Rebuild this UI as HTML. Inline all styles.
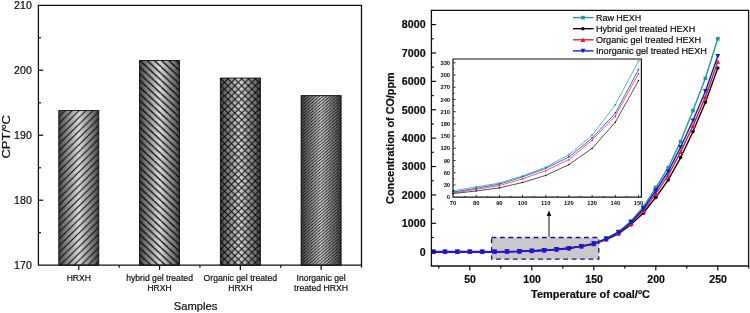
<!DOCTYPE html>
<html lang="en"><head><meta charset="utf-8"><title>CPT and CO concentration charts</title>
<style>html,body{margin:0;padding:0;background:#fff;}body{width:750px;height:313px;overflow:hidden;}svg{display:block;}text{font-family:"Liberation Sans", Arial, sans-serif;fill:#0a0a0a;stroke:#0a0a0a;stroke-width:0.18px;filter:grayscale(1);}.b{font-weight:bold;}.t{font-weight:bold;stroke:none;}</style></head><body>
<svg width="750" height="313" viewBox="0 0 750 313">
<rect x="0" y="0" width="750" height="313" fill="#ffffff"/>
<defs>
<linearGradient id="cyl" x1="0" y1="0" x2="1" y2="0"><stop offset="0" stop-color="#3e3e3e"/><stop offset="0.12" stop-color="#6e6e6e"/><stop offset="0.5" stop-color="#dadada"/><stop offset="0.88" stop-color="#6e6e6e"/><stop offset="1" stop-color="#3e3e3e"/></linearGradient>
<pattern id="h1" patternUnits="userSpaceOnUse" x="4.48" y="0.0" width="6.95" height="6.8">
<line x1="-6.95" y1="6.8" x2="0.0" y2="0" stroke="#0a0a0a" stroke-width="1.0"/>
<line x1="0.0" y1="6.8" x2="6.95" y2="0" stroke="#0a0a0a" stroke-width="1.0"/>
<line x1="6.95" y1="6.8" x2="13.9" y2="0" stroke="#0a0a0a" stroke-width="1.0"/>
</pattern>
<pattern id="h2" patternUnits="userSpaceOnUse" x="2.87" y="0.0" width="7.2" height="6.7">
<line x1="-7.2" y1="0" x2="0.0" y2="6.7" stroke="#0a0a0a" stroke-width="1.25"/>
<line x1="0.0" y1="0" x2="7.2" y2="6.7" stroke="#0a0a0a" stroke-width="1.25"/>
<line x1="7.2" y1="0" x2="14.4" y2="6.7" stroke="#0a0a0a" stroke-width="1.25"/>
</pattern>
<pattern id="h3" patternUnits="userSpaceOnUse" x="2.61" y="4.15" width="6.83" height="6.8">
<line x1="-6.83" y1="6.8" x2="0.0" y2="0" stroke="#0a0a0a" stroke-width="1.0"/>
<line x1="0.0" y1="6.8" x2="6.83" y2="0" stroke="#0a0a0a" stroke-width="1.0"/>
<line x1="6.83" y1="6.8" x2="13.66" y2="0" stroke="#0a0a0a" stroke-width="1.0"/>
<line x1="-6.83" y1="0" x2="0.0" y2="6.8" stroke="#0a0a0a" stroke-width="1.0"/>
<line x1="0.0" y1="0" x2="6.83" y2="6.8" stroke="#0a0a0a" stroke-width="1.0"/>
<line x1="6.83" y1="0" x2="13.66" y2="6.8" stroke="#0a0a0a" stroke-width="1.0"/>
</pattern>
<pattern id="h4" patternUnits="userSpaceOnUse" x="0.5" y="0.6" width="3.56" height="3.05">
<line x1="-3.56" y1="3.05" x2="0.0" y2="0" stroke="#0a0a0a" stroke-width="0.78"/>
<line x1="0.0" y1="3.05" x2="3.56" y2="0" stroke="#0a0a0a" stroke-width="0.78"/>
<line x1="3.56" y1="3.05" x2="7.12" y2="0" stroke="#0a0a0a" stroke-width="0.78"/>
</pattern>
</defs>
<g id="left-chart">
<rect x="58.79" y="110.56" width="40.00" height="154.64" fill="url(#cyl)"/>
<rect x="58.79" y="110.56" width="40.00" height="154.64" fill="url(#h1)" stroke="#111" stroke-width="0.9"/>
<rect x="139.56" y="60.53" width="40.00" height="204.67" fill="url(#cyl)"/>
<rect x="139.56" y="60.53" width="40.00" height="204.67" fill="url(#h2)" stroke="#111" stroke-width="0.9"/>
<rect x="220.34" y="78.07" width="40.00" height="187.13" fill="url(#cyl)"/>
<rect x="220.34" y="78.07" width="40.00" height="187.13" fill="url(#h3)" stroke="#111" stroke-width="0.9"/>
<rect x="301.11" y="95.62" width="40.00" height="169.58" fill="url(#cyl)"/>
<rect x="301.11" y="95.62" width="40.00" height="169.58" fill="url(#h4)" stroke="#111" stroke-width="0.9"/>
<path d="M38.40 5.30 H361.50 V265.20 H38.40 Z" fill="none" stroke="#111" stroke-width="1.3"/>
<text x="31.8" y="9.10" font-size="10.6" text-anchor="end">210</text>
<line x1="38.40" y1="37.79" x2="41.00" y2="37.79" stroke="#111" stroke-width="1.25"/>
<line x1="38.40" y1="70.27" x2="43.20" y2="70.27" stroke="#111" stroke-width="1.25"/>
<text x="31.8" y="74.07" font-size="10.6" text-anchor="end">200</text>
<line x1="38.40" y1="102.76" x2="41.00" y2="102.76" stroke="#111" stroke-width="1.25"/>
<line x1="38.40" y1="135.25" x2="43.20" y2="135.25" stroke="#111" stroke-width="1.25"/>
<text x="31.8" y="139.05" font-size="10.6" text-anchor="end">190</text>
<line x1="38.40" y1="167.74" x2="41.00" y2="167.74" stroke="#111" stroke-width="1.25"/>
<line x1="38.40" y1="200.22" x2="43.20" y2="200.22" stroke="#111" stroke-width="1.25"/>
<text x="31.8" y="204.03" font-size="10.6" text-anchor="end">180</text>
<line x1="38.40" y1="232.71" x2="41.00" y2="232.71" stroke="#111" stroke-width="1.25"/>
<text x="31.8" y="269.00" font-size="10.6" text-anchor="end">170</text>
<line x1="78.79" y1="265.20" x2="78.79" y2="269.90" stroke="#111" stroke-width="1.25"/>
<line x1="119.18" y1="265.20" x2="119.18" y2="267.70" stroke="#111" stroke-width="1.25"/>
<line x1="159.56" y1="265.20" x2="159.56" y2="269.90" stroke="#111" stroke-width="1.25"/>
<line x1="199.95" y1="265.20" x2="199.95" y2="267.70" stroke="#111" stroke-width="1.25"/>
<line x1="240.34" y1="265.20" x2="240.34" y2="269.90" stroke="#111" stroke-width="1.25"/>
<line x1="280.73" y1="265.20" x2="280.73" y2="267.70" stroke="#111" stroke-width="1.25"/>
<line x1="321.11" y1="265.20" x2="321.11" y2="269.90" stroke="#111" stroke-width="1.25"/>
<line x1="361.50" y1="265.20" x2="361.50" y2="267.70" stroke="#111" stroke-width="1.25"/>
<text x="78.79" y="280.70" font-size="8.5" text-anchor="middle" textLength="24.2" lengthAdjust="spacingAndGlyphs">HRXH</text>
<text x="159.56" y="280.70" font-size="8.5" text-anchor="middle" textLength="66.8" lengthAdjust="spacingAndGlyphs">hybrid gel treated</text>
<text x="159.56" y="291.40" font-size="8.5" text-anchor="middle" textLength="24.2" lengthAdjust="spacingAndGlyphs">HRXH</text>
<text x="240.34" y="280.70" font-size="8.5" text-anchor="middle" textLength="73.5" lengthAdjust="spacingAndGlyphs">Organic gel treated</text>
<text x="240.34" y="291.40" font-size="8.5" text-anchor="middle" textLength="24.2" lengthAdjust="spacingAndGlyphs">HRXH</text>
<text x="321.11" y="280.70" font-size="8.5" text-anchor="middle" textLength="49.0" lengthAdjust="spacingAndGlyphs">Inorganic gel</text>
<text x="321.11" y="291.40" font-size="8.5" text-anchor="middle" textLength="54.0" lengthAdjust="spacingAndGlyphs">treated HRXH</text>
<text x="195.5" y="310.4" font-size="11.2" text-anchor="middle">Samples</text>
<text transform="translate(9.7,136.8) rotate(-90)" font-size="11" text-anchor="middle" textLength="43.6" lengthAdjust="spacingAndGlyphs">CPT/<tspan font-size="6.8" dy="-3.6">o</tspan><tspan dy="3.6">C</tspan></text>
</g>
<g id="right-chart">
<rect x="491.6" y="237.5" width="107.2" height="21.7" fill="#c9c9c9" stroke="#15158f" stroke-width="1.3" stroke-dasharray="4.8 3.6"/>
<polyline points="433.40,251.70 445.00,251.70 457.40,251.70 469.80,251.70 482.20,251.70 494.60,251.75 507.00,251.60 519.40,251.40 531.80,250.90 544.20,250.30 556.60,249.40 569.00,248.20 581.40,246.30 593.80,243.30 606.20,238.40 618.60,231.70 631.00,221.20 643.40,206.80 655.80,187.60 668.20,167.70 680.60,141.60 693.00,110.60 705.40,78.30 717.80,38.80" fill="none" stroke="#12a19c" stroke-width="1.4" stroke-linejoin="round"/>
<g><rect x="431.36" y="249.66" width="4.07" height="4.07" fill="#12a19c"/><rect x="442.96" y="249.66" width="4.07" height="4.07" fill="#12a19c"/><rect x="455.37" y="249.66" width="4.07" height="4.07" fill="#12a19c"/><rect x="467.76" y="249.66" width="4.07" height="4.07" fill="#12a19c"/><rect x="480.16" y="249.66" width="4.07" height="4.07" fill="#12a19c"/><rect x="492.56" y="249.72" width="4.07" height="4.07" fill="#12a19c"/><rect x="504.96" y="249.56" width="4.07" height="4.07" fill="#12a19c"/><rect x="517.37" y="249.37" width="4.07" height="4.07" fill="#12a19c"/><rect x="529.76" y="248.87" width="4.07" height="4.07" fill="#12a19c"/><rect x="542.17" y="248.27" width="4.07" height="4.07" fill="#12a19c"/><rect x="554.57" y="247.37" width="4.07" height="4.07" fill="#12a19c"/><rect x="566.97" y="246.16" width="4.07" height="4.07" fill="#12a19c"/><rect x="579.37" y="244.27" width="4.07" height="4.07" fill="#12a19c"/><rect x="591.76" y="241.27" width="4.07" height="4.07" fill="#12a19c"/><rect x="604.17" y="236.37" width="4.07" height="4.07" fill="#12a19c"/><rect x="616.57" y="229.66" width="4.07" height="4.07" fill="#12a19c"/><rect x="628.97" y="219.16" width="4.07" height="4.07" fill="#12a19c"/><rect x="641.37" y="204.77" width="4.07" height="4.07" fill="#12a19c"/><rect x="653.76" y="185.56" width="4.07" height="4.07" fill="#12a19c"/><rect x="666.35" y="165.85" width="3.70" height="3.70" fill="#12a19c"/><rect x="678.75" y="139.75" width="3.70" height="3.70" fill="#12a19c"/><rect x="691.15" y="108.75" width="3.70" height="3.70" fill="#12a19c"/><rect x="703.55" y="76.45" width="3.70" height="3.70" fill="#12a19c"/><rect x="715.95" y="36.95" width="3.70" height="3.70" fill="#12a19c"/></g>
<polyline points="433.40,251.70 445.00,251.70 457.40,251.70 469.80,251.70 482.20,251.70 494.60,251.75 507.00,251.60 519.40,251.40 531.80,250.90 544.20,250.30 556.60,249.40 569.00,248.20 581.40,246.30 593.80,244.20 606.20,239.60 618.60,233.80 631.00,224.60 643.40,213.00 655.80,197.30 668.20,180.00 680.60,157.60 693.00,131.60 705.40,102.20 717.80,68.00" fill="none" stroke="#0a0a0a" stroke-width="1.4" stroke-linejoin="round"/>
<g><circle cx="433.40" cy="251.70" r="1.98" fill="#0a0a0a"/><circle cx="445.00" cy="251.70" r="1.98" fill="#0a0a0a"/><circle cx="457.40" cy="251.70" r="1.98" fill="#0a0a0a"/><circle cx="469.80" cy="251.70" r="1.98" fill="#0a0a0a"/><circle cx="482.20" cy="251.70" r="1.98" fill="#0a0a0a"/><circle cx="494.60" cy="251.75" r="1.98" fill="#0a0a0a"/><circle cx="507.00" cy="251.60" r="1.98" fill="#0a0a0a"/><circle cx="519.40" cy="251.40" r="1.98" fill="#0a0a0a"/><circle cx="531.80" cy="250.90" r="1.98" fill="#0a0a0a"/><circle cx="544.20" cy="250.30" r="1.98" fill="#0a0a0a"/><circle cx="556.60" cy="249.40" r="1.98" fill="#0a0a0a"/><circle cx="569.00" cy="248.20" r="1.98" fill="#0a0a0a"/><circle cx="581.40" cy="246.30" r="1.98" fill="#0a0a0a"/><circle cx="593.80" cy="244.20" r="1.98" fill="#0a0a0a"/><circle cx="606.20" cy="239.60" r="1.98" fill="#0a0a0a"/><circle cx="618.60" cy="233.80" r="1.98" fill="#0a0a0a"/><circle cx="631.00" cy="224.60" r="1.98" fill="#0a0a0a"/><circle cx="643.40" cy="213.00" r="1.98" fill="#0a0a0a"/><circle cx="655.80" cy="197.30" r="1.98" fill="#0a0a0a"/><circle cx="668.20" cy="180.00" r="1.80" fill="#0a0a0a"/><circle cx="680.60" cy="157.60" r="1.80" fill="#0a0a0a"/><circle cx="693.00" cy="131.60" r="1.80" fill="#0a0a0a"/><circle cx="705.40" cy="102.20" r="1.80" fill="#0a0a0a"/><circle cx="717.80" cy="68.00" r="1.80" fill="#0a0a0a"/></g>
<polyline points="433.40,251.70 445.00,251.70 457.40,251.70 469.80,251.70 482.20,251.70 494.60,251.75 507.00,251.60 519.40,251.40 531.80,250.90 544.20,250.30 556.60,249.40 569.00,248.20 581.40,246.30 593.80,243.90 606.20,239.20 618.60,233.00 631.00,223.40 643.40,210.60 655.80,193.60 668.20,175.30 680.60,151.90 693.00,125.90 705.40,96.90 717.80,61.70" fill="none" stroke="#f01818" stroke-width="1.4" stroke-linejoin="round"/>
<g><path d="M433.40 249.17 L436.04 254.01 L430.76 254.01 Z" fill="#f01818"/><path d="M445.00 249.17 L447.64 254.01 L442.36 254.01 Z" fill="#f01818"/><path d="M457.40 249.17 L460.04 254.01 L454.76 254.01 Z" fill="#f01818"/><path d="M469.80 249.17 L472.44 254.01 L467.16 254.01 Z" fill="#f01818"/><path d="M482.20 249.17 L484.84 254.01 L479.56 254.01 Z" fill="#f01818"/><path d="M494.60 249.22 L497.24 254.06 L491.96 254.06 Z" fill="#f01818"/><path d="M507.00 249.07 L509.64 253.91 L504.36 253.91 Z" fill="#f01818"/><path d="M519.40 248.87 L522.04 253.71 L516.76 253.71 Z" fill="#f01818"/><path d="M531.80 248.37 L534.44 253.21 L529.16 253.21 Z" fill="#f01818"/><path d="M544.20 247.77 L546.84 252.61 L541.56 252.61 Z" fill="#f01818"/><path d="M556.60 246.87 L559.24 251.71 L553.96 251.71 Z" fill="#f01818"/><path d="M569.00 245.67 L571.64 250.51 L566.36 250.51 Z" fill="#f01818"/><path d="M581.40 243.77 L584.04 248.61 L578.76 248.61 Z" fill="#f01818"/><path d="M593.80 241.37 L596.44 246.21 L591.16 246.21 Z" fill="#f01818"/><path d="M606.20 236.67 L608.84 241.51 L603.56 241.51 Z" fill="#f01818"/><path d="M618.60 230.47 L621.24 235.31 L615.96 235.31 Z" fill="#f01818"/><path d="M631.00 220.87 L633.64 225.71 L628.36 225.71 Z" fill="#f01818"/><path d="M643.40 208.07 L646.04 212.91 L640.76 212.91 Z" fill="#f01818"/><path d="M655.80 191.07 L658.44 195.91 L653.16 195.91 Z" fill="#f01818"/><path d="M668.20 173.00 L670.60 177.40 L665.80 177.40 Z" fill="#f01818"/><path d="M680.60 149.60 L683.00 154.00 L678.20 154.00 Z" fill="#f01818"/><path d="M693.00 123.60 L695.40 128.00 L690.60 128.00 Z" fill="#f01818"/><path d="M705.40 94.60 L707.80 99.00 L703.00 99.00 Z" fill="#f01818"/><path d="M717.80 59.40 L720.20 63.80 L715.40 63.80 Z" fill="#f01818"/></g>
<polyline points="433.40,251.70 445.00,251.70 457.40,251.70 469.80,251.70 482.20,251.70 494.60,251.75 507.00,251.60 519.40,251.40 531.80,250.90 544.20,250.30 556.60,249.40 569.00,248.20 581.40,246.30 593.80,243.60 606.20,238.80 618.60,232.40 631.00,222.30 643.40,208.60 655.80,190.70 668.20,171.50 680.60,147.20 693.00,120.50 705.40,91.20 717.80,56.10" fill="none" stroke="#1414f0" stroke-width="1.4" stroke-linejoin="round"/>
<g><path d="M433.40 254.23 L436.09 249.39 L430.70 249.39 Z" fill="#1414f0"/><path d="M445.00 254.23 L447.69 249.39 L442.31 249.39 Z" fill="#1414f0"/><path d="M457.40 254.23 L460.10 249.39 L454.71 249.39 Z" fill="#1414f0"/><path d="M469.80 254.23 L472.50 249.39 L467.11 249.39 Z" fill="#1414f0"/><path d="M482.20 254.23 L484.89 249.39 L479.50 249.39 Z" fill="#1414f0"/><path d="M494.60 254.28 L497.30 249.44 L491.91 249.44 Z" fill="#1414f0"/><path d="M507.00 254.13 L509.69 249.29 L504.31 249.29 Z" fill="#1414f0"/><path d="M519.40 253.93 L522.10 249.09 L516.70 249.09 Z" fill="#1414f0"/><path d="M531.80 253.43 L534.50 248.59 L529.10 248.59 Z" fill="#1414f0"/><path d="M544.20 252.83 L546.90 247.99 L541.50 247.99 Z" fill="#1414f0"/><path d="M556.60 251.93 L559.30 247.09 L553.90 247.09 Z" fill="#1414f0"/><path d="M569.00 250.73 L571.70 245.89 L566.30 245.89 Z" fill="#1414f0"/><path d="M581.40 248.83 L584.10 243.99 L578.70 243.99 Z" fill="#1414f0"/><path d="M593.80 246.13 L596.50 241.29 L591.10 241.29 Z" fill="#1414f0"/><path d="M606.20 241.33 L608.90 236.49 L603.50 236.49 Z" fill="#1414f0"/><path d="M618.60 234.93 L621.30 230.09 L615.90 230.09 Z" fill="#1414f0"/><path d="M631.00 224.83 L633.70 219.99 L628.30 219.99 Z" fill="#1414f0"/><path d="M643.40 211.13 L646.10 206.29 L640.70 206.29 Z" fill="#1414f0"/><path d="M655.80 193.23 L658.50 188.39 L653.10 188.39 Z" fill="#1414f0"/><path d="M668.20 173.80 L670.65 169.40 L665.75 169.40 Z" fill="#1414f0"/><path d="M680.60 149.50 L683.05 145.10 L678.15 145.10 Z" fill="#1414f0"/><path d="M693.00 122.80 L695.45 118.40 L690.55 118.40 Z" fill="#1414f0"/><path d="M705.40 93.50 L707.85 89.10 L702.95 89.10 Z" fill="#1414f0"/><path d="M717.80 58.40 L720.25 54.00 L715.35 54.00 Z" fill="#1414f0"/></g>
<polyline points="433.40,251.70 445.00,251.70 457.40,251.70 469.80,251.70 482.20,251.70 494.60,251.75 507.00,251.60 519.40,251.40 531.80,250.90 544.20,250.30 556.60,249.40 569.00,248.20" fill="none" stroke="#1414f0" stroke-width="1.7" stroke-linejoin="round"/>
<g><circle cx="433.40" cy="251.85" r="2.05" fill="#1414f0"/><circle cx="445.00" cy="251.85" r="2.05" fill="#1414f0"/><circle cx="457.40" cy="251.85" r="2.05" fill="#1414f0"/><circle cx="469.80" cy="251.85" r="2.05" fill="#1414f0"/><circle cx="482.20" cy="251.85" r="2.05" fill="#1414f0"/><circle cx="494.60" cy="251.90" r="2.05" fill="#1414f0"/><circle cx="507.00" cy="251.75" r="2.05" fill="#1414f0"/><circle cx="519.40" cy="251.55" r="2.05" fill="#1414f0"/><circle cx="531.80" cy="251.05" r="2.05" fill="#1414f0"/><circle cx="544.20" cy="250.45" r="2.05" fill="#1414f0"/><circle cx="556.60" cy="249.55" r="2.05" fill="#1414f0"/><circle cx="569.00" cy="248.35" r="2.05" fill="#1414f0"/><circle cx="581.40" cy="246.45" r="2.05" fill="#1414f0"/><circle cx="593.80" cy="243.75" r="2.05" fill="#1414f0"/><circle cx="606.20" cy="238.95" r="2.05" fill="#1414f0"/></g>
<line x1="549" y1="237" x2="549" y2="214" stroke="#111" stroke-width="1.0"/>
<path d="M549 210.2 L551.3 216 L546.7 216 Z" fill="#111"/>
<path d="M431.40 10.40 H748.60 V266.00 H431.40 Z" fill="none" stroke="#111" stroke-width="1.3"/>
<line x1="431.40" y1="251.70" x2="436.10" y2="251.70" stroke="#111" stroke-width="1.2"/>
<text class="b" x="425.6" y="255.50" font-size="10.7" text-anchor="end">0</text>
<line x1="431.40" y1="237.50" x2="433.80" y2="237.50" stroke="#111" stroke-width="1.2"/>
<line x1="431.40" y1="223.31" x2="436.10" y2="223.31" stroke="#111" stroke-width="1.2"/>
<text class="b" x="425.6" y="227.11" font-size="10.7" text-anchor="end">1000</text>
<line x1="431.40" y1="209.11" x2="433.80" y2="209.11" stroke="#111" stroke-width="1.2"/>
<line x1="431.40" y1="194.92" x2="436.10" y2="194.92" stroke="#111" stroke-width="1.2"/>
<text class="b" x="425.6" y="198.72" font-size="10.7" text-anchor="end">2000</text>
<line x1="431.40" y1="180.72" x2="433.80" y2="180.72" stroke="#111" stroke-width="1.2"/>
<line x1="431.40" y1="166.53" x2="436.10" y2="166.53" stroke="#111" stroke-width="1.2"/>
<text class="b" x="425.6" y="170.33" font-size="10.7" text-anchor="end">3000</text>
<line x1="431.40" y1="152.33" x2="433.80" y2="152.33" stroke="#111" stroke-width="1.2"/>
<line x1="431.40" y1="138.14" x2="436.10" y2="138.14" stroke="#111" stroke-width="1.2"/>
<text class="b" x="425.6" y="141.94" font-size="10.7" text-anchor="end">4000</text>
<line x1="431.40" y1="123.94" x2="433.80" y2="123.94" stroke="#111" stroke-width="1.2"/>
<line x1="431.40" y1="109.75" x2="436.10" y2="109.75" stroke="#111" stroke-width="1.2"/>
<text class="b" x="425.6" y="113.55" font-size="10.7" text-anchor="end">5000</text>
<line x1="431.40" y1="95.56" x2="433.80" y2="95.56" stroke="#111" stroke-width="1.2"/>
<line x1="431.40" y1="81.36" x2="436.10" y2="81.36" stroke="#111" stroke-width="1.2"/>
<text class="b" x="425.6" y="85.16" font-size="10.7" text-anchor="end">6000</text>
<line x1="431.40" y1="67.16" x2="433.80" y2="67.16" stroke="#111" stroke-width="1.2"/>
<line x1="431.40" y1="52.97" x2="436.10" y2="52.97" stroke="#111" stroke-width="1.2"/>
<text class="b" x="425.6" y="56.77" font-size="10.7" text-anchor="end">7000</text>
<line x1="431.40" y1="38.78" x2="433.80" y2="38.78" stroke="#111" stroke-width="1.2"/>
<line x1="431.40" y1="24.58" x2="436.10" y2="24.58" stroke="#111" stroke-width="1.2"/>
<text class="b" x="425.6" y="28.38" font-size="10.7" text-anchor="end">8000</text>
<line x1="438.80" y1="266.00" x2="438.80" y2="268.40" stroke="#111" stroke-width="1.2"/>
<line x1="469.80" y1="266.00" x2="469.80" y2="270.60" stroke="#111" stroke-width="1.2"/>
<text class="b" x="470.10" y="283.4" font-size="10.5" text-anchor="middle">50</text>
<line x1="500.80" y1="266.00" x2="500.80" y2="268.40" stroke="#111" stroke-width="1.2"/>
<line x1="531.80" y1="266.00" x2="531.80" y2="270.60" stroke="#111" stroke-width="1.2"/>
<text class="b" x="532.10" y="283.4" font-size="10.5" text-anchor="middle">100</text>
<line x1="562.80" y1="266.00" x2="562.80" y2="268.40" stroke="#111" stroke-width="1.2"/>
<line x1="593.80" y1="266.00" x2="593.80" y2="270.60" stroke="#111" stroke-width="1.2"/>
<text class="b" x="594.10" y="283.4" font-size="10.5" text-anchor="middle">150</text>
<line x1="624.80" y1="266.00" x2="624.80" y2="268.40" stroke="#111" stroke-width="1.2"/>
<line x1="655.80" y1="266.00" x2="655.80" y2="270.60" stroke="#111" stroke-width="1.2"/>
<text class="b" x="656.10" y="283.4" font-size="10.5" text-anchor="middle">200</text>
<line x1="686.80" y1="266.00" x2="686.80" y2="268.40" stroke="#111" stroke-width="1.2"/>
<line x1="717.80" y1="266.00" x2="717.80" y2="270.60" stroke="#111" stroke-width="1.2"/>
<text class="b" x="718.10" y="283.4" font-size="10.5" text-anchor="middle">250</text>
<line x1="748.80" y1="266.00" x2="748.80" y2="268.40" stroke="#111" stroke-width="1.2"/>
<text class="b" x="590.5" y="297.9" font-size="10.6" text-anchor="middle" textLength="119" lengthAdjust="spacingAndGlyphs">Temperature of coal/<tspan font-size="6.6" dy="-3.5">o</tspan><tspan dy="3.5">C</tspan></text>
<text class="b" transform="translate(393.9,138.1) rotate(-90)" font-size="10.2" text-anchor="middle" textLength="131.6" lengthAdjust="spacingAndGlyphs">Concentration of CO/ppm</text>
<line x1="573.0" y1="17.60" x2="593.6" y2="17.60" stroke="#12a19c" stroke-width="1.35"/>
<rect x="581.15" y="15.75" width="3.70" height="3.70" fill="#12a19c"/>
<text x="596.0" y="20.60" font-size="8.5" textLength="45.2" lengthAdjust="spacingAndGlyphs">Raw HEXH</text>
<line x1="573.0" y1="28.70" x2="593.6" y2="28.70" stroke="#0a0a0a" stroke-width="1.35"/>
<circle cx="583.00" cy="28.70" r="1.80" fill="#0a0a0a"/>
<text x="596.0" y="31.70" font-size="8.5" textLength="99.2" lengthAdjust="spacingAndGlyphs">Hybrid gel treated HEXH</text>
<line x1="573.0" y1="39.80" x2="593.6" y2="39.80" stroke="#f01818" stroke-width="1.35"/>
<path d="M583.00 37.50 L585.40 41.90 L580.60 41.90 Z" fill="#f01818"/>
<text x="596.0" y="42.80" font-size="8.5" textLength="105.2" lengthAdjust="spacingAndGlyphs">Organic gel treated HEXH</text>
<line x1="573.0" y1="50.90" x2="593.6" y2="50.90" stroke="#1414f0" stroke-width="1.35"/>
<path d="M583.00 53.20 L585.45 48.80 L580.55 48.80 Z" fill="#1414f0"/>
<text x="596.0" y="53.90" font-size="8.5" textLength="110.8" lengthAdjust="spacingAndGlyphs">Inorganic gel treated HEXH</text>
<rect x="453.00" y="59.00" width="188.40" height="138.20" fill="#ffffff"/>
<polyline points="453.00,193.60 476.19,191.00 499.38,187.90 522.57,182.50 545.76,175.40 568.95,164.60 592.14,148.40 615.33,122.20 638.52,80.60" fill="none" stroke="#0a0a0a" stroke-width="0.7" stroke-linejoin="round"/>
<g><circle cx="453.00" cy="193.60" r="0.76" fill="#0a0a0a"/><circle cx="476.19" cy="191.00" r="0.76" fill="#0a0a0a"/><circle cx="499.38" cy="187.90" r="0.76" fill="#0a0a0a"/><circle cx="522.57" cy="182.50" r="0.76" fill="#0a0a0a"/><circle cx="545.76" cy="175.40" r="0.76" fill="#0a0a0a"/><circle cx="568.95" cy="164.60" r="0.76" fill="#0a0a0a"/><circle cx="592.14" cy="148.40" r="0.76" fill="#0a0a0a"/><circle cx="615.33" cy="122.20" r="0.76" fill="#0a0a0a"/><circle cx="638.52" cy="80.60" r="0.76" fill="#0a0a0a"/></g>
<polyline points="453.00,193.10 476.19,189.40 499.38,185.60 522.57,178.90 545.76,170.60 568.95,159.60 592.14,140.00 615.33,116.00 638.52,73.50" fill="none" stroke="#f01818" stroke-width="0.7" stroke-linejoin="round"/>
<g><path d="M453.00 192.13 L454.01 193.98 L451.99 193.98 Z" fill="#f01818"/><path d="M476.19 188.43 L477.20 190.28 L475.18 190.28 Z" fill="#f01818"/><path d="M499.38 184.63 L500.39 186.48 L498.37 186.48 Z" fill="#f01818"/><path d="M522.57 177.93 L523.58 179.78 L521.56 179.78 Z" fill="#f01818"/><path d="M545.76 169.63 L546.77 171.48 L544.75 171.48 Z" fill="#f01818"/><path d="M568.95 158.63 L569.96 160.48 L567.94 160.48 Z" fill="#f01818"/><path d="M592.14 139.03 L593.15 140.88 L591.13 140.88 Z" fill="#f01818"/><path d="M615.33 115.03 L616.34 116.88 L614.32 116.88 Z" fill="#f01818"/><path d="M638.52 72.53 L639.53 74.38 L637.51 74.38 Z" fill="#f01818"/></g>
<polyline points="453.00,192.10 476.19,188.30 499.38,184.10 522.57,176.90 545.76,168.40 568.95,157.00 592.14,138.00 615.33,113.10 638.52,69.60" fill="none" stroke="#1414f0" stroke-width="0.7" stroke-linejoin="round"/>
<g><path d="M453.00 193.07 L454.03 191.22 L451.97 191.22 Z" fill="#1414f0"/><path d="M476.19 189.27 L477.22 187.42 L475.16 187.42 Z" fill="#1414f0"/><path d="M499.38 185.07 L500.41 183.22 L498.35 183.22 Z" fill="#1414f0"/><path d="M522.57 177.87 L523.60 176.02 L521.54 176.02 Z" fill="#1414f0"/><path d="M545.76 169.37 L546.79 167.52 L544.73 167.52 Z" fill="#1414f0"/><path d="M568.95 157.97 L569.98 156.12 L567.92 156.12 Z" fill="#1414f0"/><path d="M592.14 138.97 L593.17 137.12 L591.11 137.12 Z" fill="#1414f0"/><path d="M615.33 114.07 L616.36 112.22 L614.30 112.22 Z" fill="#1414f0"/><path d="M638.52 70.57 L639.55 68.72 L637.49 68.72 Z" fill="#1414f0"/></g>
<polyline points="453.00,190.80 476.19,186.90 499.38,183.10 522.57,176.00 545.76,167.20 568.95,154.60 592.14,135.10 615.33,104.80 638.52,61.00" fill="none" stroke="#12a19c" stroke-width="0.7" stroke-linejoin="round"/>
<g><rect x="452.22" y="190.02" width="1.55" height="1.55" fill="#12a19c"/><rect x="475.41" y="186.12" width="1.55" height="1.55" fill="#12a19c"/><rect x="498.60" y="182.32" width="1.55" height="1.55" fill="#12a19c"/><rect x="521.79" y="175.22" width="1.55" height="1.55" fill="#12a19c"/><rect x="544.98" y="166.42" width="1.55" height="1.55" fill="#12a19c"/><rect x="568.17" y="153.82" width="1.55" height="1.55" fill="#12a19c"/><rect x="591.36" y="134.32" width="1.55" height="1.55" fill="#12a19c"/><rect x="614.55" y="104.02" width="1.55" height="1.55" fill="#12a19c"/><rect x="637.74" y="60.22" width="1.55" height="1.55" fill="#12a19c"/></g>
<path d="M453.00 59.00 H641.40 V197.20 H453.00 Z" fill="none" stroke="#111" stroke-width="1.2"/>
<text class="t" x="450.1" y="199.35" font-size="5.8" text-anchor="end">0</text>
<line x1="453.00" y1="191.09" x2="454.50" y2="191.09" stroke="#111" stroke-width="0.8"/>
<line x1="453.00" y1="184.98" x2="455.70" y2="184.98" stroke="#111" stroke-width="0.8"/>
<text class="t" x="450.1" y="187.13" font-size="5.8" text-anchor="end">30</text>
<line x1="453.00" y1="178.87" x2="454.50" y2="178.87" stroke="#111" stroke-width="0.8"/>
<line x1="453.00" y1="172.76" x2="455.70" y2="172.76" stroke="#111" stroke-width="0.8"/>
<text class="t" x="450.1" y="174.91" font-size="5.8" text-anchor="end">60</text>
<line x1="453.00" y1="166.65" x2="454.50" y2="166.65" stroke="#111" stroke-width="0.8"/>
<line x1="453.00" y1="160.54" x2="455.70" y2="160.54" stroke="#111" stroke-width="0.8"/>
<text class="t" x="450.1" y="162.69" font-size="5.8" text-anchor="end">90</text>
<line x1="453.00" y1="154.43" x2="454.50" y2="154.43" stroke="#111" stroke-width="0.8"/>
<line x1="453.00" y1="148.32" x2="455.70" y2="148.32" stroke="#111" stroke-width="0.8"/>
<text class="t" x="450.1" y="150.47" font-size="5.8" text-anchor="end">120</text>
<line x1="453.00" y1="142.21" x2="454.50" y2="142.21" stroke="#111" stroke-width="0.8"/>
<line x1="453.00" y1="136.10" x2="455.70" y2="136.10" stroke="#111" stroke-width="0.8"/>
<text class="t" x="450.1" y="138.25" font-size="5.8" text-anchor="end">150</text>
<line x1="453.00" y1="129.99" x2="454.50" y2="129.99" stroke="#111" stroke-width="0.8"/>
<line x1="453.00" y1="123.88" x2="455.70" y2="123.88" stroke="#111" stroke-width="0.8"/>
<text class="t" x="450.1" y="126.03" font-size="5.8" text-anchor="end">180</text>
<line x1="453.00" y1="117.77" x2="454.50" y2="117.77" stroke="#111" stroke-width="0.8"/>
<line x1="453.00" y1="111.66" x2="455.70" y2="111.66" stroke="#111" stroke-width="0.8"/>
<text class="t" x="450.1" y="113.81" font-size="5.8" text-anchor="end">210</text>
<line x1="453.00" y1="105.55" x2="454.50" y2="105.55" stroke="#111" stroke-width="0.8"/>
<line x1="453.00" y1="99.44" x2="455.70" y2="99.44" stroke="#111" stroke-width="0.8"/>
<text class="t" x="450.1" y="101.59" font-size="5.8" text-anchor="end">240</text>
<line x1="453.00" y1="93.33" x2="454.50" y2="93.33" stroke="#111" stroke-width="0.8"/>
<line x1="453.00" y1="87.22" x2="455.70" y2="87.22" stroke="#111" stroke-width="0.8"/>
<text class="t" x="450.1" y="89.37" font-size="5.8" text-anchor="end">270</text>
<line x1="453.00" y1="81.11" x2="454.50" y2="81.11" stroke="#111" stroke-width="0.8"/>
<line x1="453.00" y1="75.00" x2="455.70" y2="75.00" stroke="#111" stroke-width="0.8"/>
<text class="t" x="450.1" y="77.15" font-size="5.8" text-anchor="end">300</text>
<line x1="453.00" y1="68.89" x2="454.50" y2="68.89" stroke="#111" stroke-width="0.8"/>
<line x1="453.00" y1="62.78" x2="455.70" y2="62.78" stroke="#111" stroke-width="0.8"/>
<text class="t" x="450.1" y="64.93" font-size="5.8" text-anchor="end">330</text>
<text class="t" x="453.00" y="205.0" font-size="5.8" text-anchor="middle">70</text>
<line x1="464.60" y1="197.20" x2="464.60" y2="195.90" stroke="#111" stroke-width="0.8"/>
<line x1="476.19" y1="197.20" x2="476.19" y2="194.80" stroke="#111" stroke-width="0.8"/>
<text class="t" x="476.19" y="205.0" font-size="5.8" text-anchor="middle">80</text>
<line x1="487.78" y1="197.20" x2="487.78" y2="195.90" stroke="#111" stroke-width="0.8"/>
<line x1="499.38" y1="197.20" x2="499.38" y2="194.80" stroke="#111" stroke-width="0.8"/>
<text class="t" x="499.38" y="205.0" font-size="5.8" text-anchor="middle">90</text>
<line x1="510.98" y1="197.20" x2="510.98" y2="195.90" stroke="#111" stroke-width="0.8"/>
<line x1="522.57" y1="197.20" x2="522.57" y2="194.80" stroke="#111" stroke-width="0.8"/>
<text class="t" x="522.57" y="205.0" font-size="5.8" text-anchor="middle">100</text>
<line x1="534.16" y1="197.20" x2="534.16" y2="195.90" stroke="#111" stroke-width="0.8"/>
<line x1="545.76" y1="197.20" x2="545.76" y2="194.80" stroke="#111" stroke-width="0.8"/>
<text class="t" x="545.76" y="205.0" font-size="5.8" text-anchor="middle">110</text>
<line x1="557.36" y1="197.20" x2="557.36" y2="195.90" stroke="#111" stroke-width="0.8"/>
<line x1="568.95" y1="197.20" x2="568.95" y2="194.80" stroke="#111" stroke-width="0.8"/>
<text class="t" x="568.95" y="205.0" font-size="5.8" text-anchor="middle">120</text>
<line x1="580.54" y1="197.20" x2="580.54" y2="195.90" stroke="#111" stroke-width="0.8"/>
<line x1="592.14" y1="197.20" x2="592.14" y2="194.80" stroke="#111" stroke-width="0.8"/>
<text class="t" x="592.14" y="205.0" font-size="5.8" text-anchor="middle">130</text>
<line x1="603.74" y1="197.20" x2="603.74" y2="195.90" stroke="#111" stroke-width="0.8"/>
<line x1="615.33" y1="197.20" x2="615.33" y2="194.80" stroke="#111" stroke-width="0.8"/>
<text class="t" x="615.33" y="205.0" font-size="5.8" text-anchor="middle">140</text>
<line x1="626.92" y1="197.20" x2="626.92" y2="195.90" stroke="#111" stroke-width="0.8"/>
<line x1="638.52" y1="197.20" x2="638.52" y2="194.80" stroke="#111" stroke-width="0.8"/>
<text class="t" x="638.52" y="205.0" font-size="5.8" text-anchor="middle">150</text>
</g>
</svg></body></html>
